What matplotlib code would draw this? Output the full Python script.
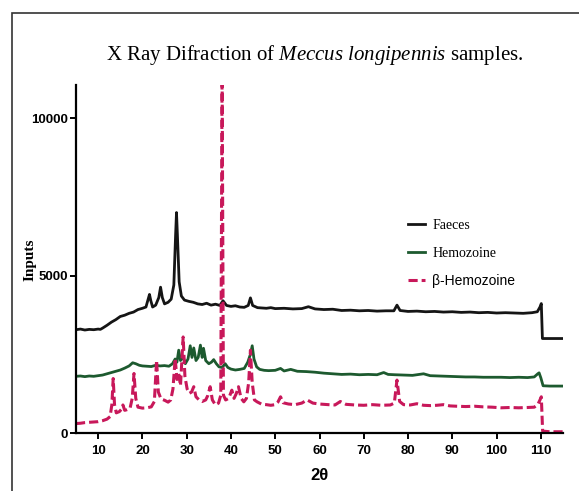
import matplotlib
matplotlib.use('Agg')
import matplotlib.pyplot as plt
from matplotlib.patches import Rectangle
from matplotlib import font_manager

plt.rcParams['mathtext.fontset'] = 'custom'
plt.rcParams['mathtext.rm'] = 'Liberation Serif'
plt.rcParams['mathtext.it'] = 'Liberation Serif:italic'

# Faeces (black)
faeces_x = [5, 6, 7, 8, 9, 10, 10.5, 11, 12, 13, 14, 15, 16, 17, 18, 19, 20, 20.8, 21.3, 21.6,
            21.9, 22.3, 23, 23.7, 24.1, 24.5, 25, 25.8, 26.5, 27.1, 27.5, 27.7, 27.9, 28.3, 28.8,
            29.5, 30.5, 31.5, 32.5, 33.5, 34.5, 35.5, 36.5, 37.5, 38.2, 39, 40, 41, 42, 43, 43.9,
            44.4, 44.9, 46, 47, 48, 49, 50, 52, 54, 56, 57.5, 59, 61, 63, 65, 67, 69, 71, 73, 75,
            76.8, 77.5, 78.2, 80, 82, 84, 86, 88, 90, 92, 94, 96, 98, 100, 102, 104, 106, 108,
            109.2, 109.8, 110.1, 110.35, 112, 115]
faeces_y = [3280, 3300, 3270, 3290, 3280, 3300, 3290, 3330, 3420, 3520, 3600, 3700, 3740, 3800,
            3840, 3920, 3960, 4000, 4250, 4400, 4200, 4000, 4060, 4300, 4630, 4300, 4100, 4150,
            4250, 4700, 6300, 7000, 6300, 4800, 4350, 4220, 4180, 4150, 4100, 4080, 4120, 4060,
            4090, 4050, 4200, 4050, 4020, 4040, 4000, 3990, 4050, 4290, 4050, 3980, 3970, 3960,
            3980, 3950, 3960, 3940, 3950, 4010, 3940, 3920, 3930, 3890, 3900, 3880, 3890, 3870,
            3880, 3880, 4060, 3890, 3860, 3870, 3850, 3860, 3840, 3850, 3830, 3840, 3820, 3830,
            3810, 3820, 3810, 3800, 3820, 3850, 4000, 4110, 3000, 3000, 3000]

# Hemozoine (green)
hemo_x = [5, 6, 7, 8, 9, 10, 11, 12, 13, 14, 15, 16, 17, 17.8, 18.5, 19.3, 20, 21, 22, 23, 24,
          25, 26, 26.8, 27.4, 27.8, 28.2, 28.6, 29.2, 29.7, 30.3, 30.8, 31.2, 31.6, 32.1, 32.6,
          33.1, 33.5, 33.8, 34.3, 35, 35.6, 36.1, 36.7, 37.3, 38, 38.7, 39.3, 40, 41, 42, 43,
          43.8, 44.4, 44.8, 45.2, 45.8, 46.5, 47.5, 48.5, 50, 51.2, 52, 53.5, 55, 57, 59, 61, 63,
          65, 67, 69, 71, 73, 74.5, 75.5, 77, 79, 81, 83.5, 85, 87, 89, 91, 93, 95, 97, 99, 101,
          103, 105, 107, 108.5, 109.3, 109.6, 110, 110.5, 112, 115]
hemo_y = [1800, 1810, 1790, 1810, 1800, 1820, 1840, 1880, 1920, 1960, 2000, 2060, 2130, 2230,
          2200, 2150, 2130, 2120, 2110, 2150, 2130, 2140, 2120, 2200, 2350, 2250, 2630, 2300,
          2420, 2200, 2350, 2770, 2400, 2700, 2300, 2400, 2790, 2400, 2690, 2300, 2200, 2250,
          2330, 2200, 2100, 2080, 2200, 2080, 2030, 2000, 2020, 2050, 2250, 2500, 2770, 2350,
          2100, 2020, 1990, 1980, 1990, 2050, 1970, 2020, 1960, 1950, 1930, 1900, 1880, 1860,
          1870, 1850, 1860, 1850, 1920, 1860, 1850, 1840, 1830, 1880, 1820, 1810, 1800, 1790,
          1780, 1780, 1770, 1770, 1770, 1760, 1770, 1760, 1780, 1880, 1910, 1750, 1500, 1490,
          1490]

# beta-Hemozoine (pink, dashed)
beta_x = [5, 6, 7, 8, 9, 10, 11, 12, 12.7, 13.1, 13.4, 13.7, 14.1, 14.8, 15.3, 15.6, 16, 16.5,
          17.2, 17.7, 18.1, 18.5, 19, 20, 21, 22, 22.7, 23.2, 23.6, 24.2, 25, 25.8, 26.4, 26.9,
          27.4, 27.8, 28.2, 28.6, 29.2, 29.6, 30.1, 30.6, 31.1, 31.6, 32.1, 32.8, 33.5, 34.3,
          34.8, 35.3, 35.8, 36.5, 37.2, 37.7, 38.0, 38.3, 38.8, 39.5, 40.2, 40.7, 41.2, 41.7,
          42.3, 42.9, 43.5, 44, 44.4, 44.8, 45.3, 45.9, 47, 48, 49, 50, 50.6, 51.2, 51.8, 53,
          54.5, 56, 57.2, 58.5, 60, 62, 63.5, 64.7, 66, 68, 70, 72, 74, 76, 76.9, 77.5, 78.1, 79,
          80.5, 82, 83.5, 85, 86.5, 88, 89.5, 91, 93, 95, 97, 99, 101, 103, 105, 107, 108.5,
          109.3, 109.8, 110.1, 110.4, 112, 115]
beta_y = [300, 310, 330, 340, 350, 360, 390, 440, 520, 900, 1730, 900, 640, 680, 760, 890, 720,
          740, 780, 1100, 1890, 1100, 820, 790, 800, 830, 1000, 2310, 1300, 1080, 1040, 980,
          1050, 1400, 2370, 1700, 1890, 1500, 3050, 1800, 1400, 1260, 1300, 1470, 1150, 1050,
          1000, 1050, 1200, 1470, 1050, 890, 950, 1200, 11500, 1200, 1050, 1100, 1360, 1100,
          1250, 1470, 1100, 990, 1100, 1600, 2630, 1600, 1050, 990, 910, 900, 880, 900, 980,
          1150, 960, 920, 900, 950, 1050, 950, 920, 900, 890, 1000, 910, 890, 880, 900, 880,
          890, 950, 1680, 1000, 900, 890, 930, 880, 870, 880, 900, 860, 850, 840, 850, 830, 820,
          800, 810, 800, 810, 820, 900, 1050, 1150, 60, 40, 40]

labels = ['Faeces', 'Hemozoine', 'β-Hemozoine']
colors = ['#151515', '#1d5a2f', '#c8185a']

# narrow bold font for ticks if there is one
names = {f.name for f in font_manager.fontManager.ttflist}
tick_font = 'Liberation Sans Narrow' if 'Liberation Sans Narrow' in names else 'Liberation Sans'

fig = plt.figure(figsize=(5.79, 4.91), dpi=100)
ax = fig.add_axes([76/579, 1 - 433/491, (563 - 76)/579, (433 - 85)/491])

ax.plot(faeces_x, faeces_y, color=colors[0], lw=2.0, label=labels[0])
ax.plot(hemo_x, hemo_y, color=colors[1], lw=2.0, label=labels[1])
ax.plot(beta_x, beta_y, color=colors[2], lw=2.2, dashes=(3, 1.3), label=labels[2])

ax.set_xlim(5, 115)
ax.set_ylim(0, 11050)
ax.set_xticks(range(10, 111, 10))
ax.set_yticks([0, 5000, 10000])
for s in ['top', 'right']:
    ax.spines[s].set_visible(False)
for s in ['left', 'bottom']:
    ax.spines[s].set_linewidth(1.6)
ax.tick_params(direction='out', length=4, width=1.4, pad=2)
ax.tick_params(axis='x', pad=5)
for t in ax.get_xticklabels() + ax.get_yticklabels():
    t.set_fontfamily(tick_font)
    t.set_fontweight('bold')
    t.set_fontsize(10.5 if tick_font != 'Liberation Sans' else 9.5)

ax.set_xlabel('2θ', fontfamily='Liberation Sans', fontweight='bold', fontsize=12)
ax.xaxis.set_label_coords(0.5, -0.1)
fig.text(30/579, 1 - 260/491, 'Inputs', rotation=90, ha='center', va='center',
         fontfamily='Liberation Serif', fontweight='bold', fontsize=11)

fig.text(315/579, 1 - 55/491, r'X Ray Difraction of $\mathit{Meccus\ longipennis}$ samples.',
         ha='center', va='center', fontfamily='Liberation Serif', fontsize=15)

leg = ax.legend(loc='upper left', bbox_to_anchor=(401/579, 1 - 212/491),
                bbox_transform=fig.transFigure, frameon=False, borderpad=0,
                handlelength=1.2, handletextpad=0.55, labelspacing=1.05, fontsize=10)
for i, t in enumerate(leg.get_texts()):
    t.set_fontfamily('Liberation Serif' if i < 2 else 'Liberation Sans')

fig.patches.append(Rectangle((12/579, -0.1), 1.2, 1.1 - 13/491, transform=fig.transFigure,
                             fill=False, edgecolor='#333333', lw=1.2, figure=fig))

fig.savefig('out.png', dpi=100)
